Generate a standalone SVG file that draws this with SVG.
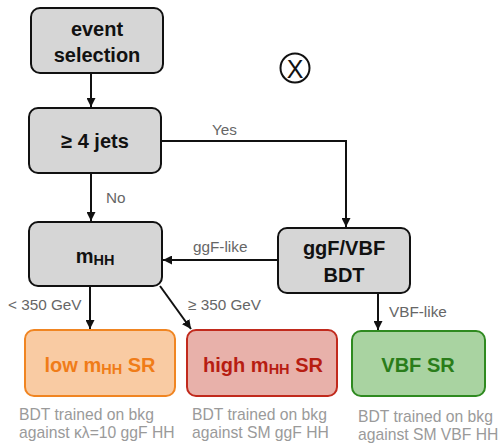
<svg xmlns="http://www.w3.org/2000/svg" width="498" height="444" viewBox="0 0 498 444">
<style>
.box{fill:#d6d6d6;stroke:#111;stroke-width:2}
.t{font-family:"Liberation Sans",Arial,sans-serif;font-weight:bold;font-size:20px;text-anchor:middle;fill:#111}
.sr{font-family:"Liberation Sans",Arial,sans-serif;font-weight:bold;font-size:20px;text-anchor:middle}
.lbl{font-family:"Liberation Sans",Arial,sans-serif;font-size:15.3px;fill:#666}
.note{font-family:"Liberation Sans",Arial,sans-serif;font-size:15.7px;fill:#9a9a9a}
.c{fill:none;stroke:#111;stroke-width:2}
</style>
<defs>
<marker id="ah" viewBox="0 0 10 10" refX="10" refY="5" markerWidth="4.5" markerHeight="4.5" orient="auto" markerUnits="strokeWidth">
<path d="M0,0 L10,5 L0,10 z" fill="#111"/>
</marker>
</defs>
<rect width="498" height="444" fill="#fff"/>
<g id="connectors">
<path class="c" d="M91,73 V107" marker-end="url(#ah)"/>
<path class="c" d="M161,141 H346 V227" marker-end="url(#ah)"/>
<path class="c" d="M91,173 V221" marker-end="url(#ah)"/>
<path class="c" d="M278,260 H163" marker-end="url(#ah)"/>
<path class="c" d="M90,286 V329" marker-end="url(#ah)"/>
<path class="c" d="M160,286 L191,329" marker-end="url(#ah)"/>
<path class="c" d="M378,293 V330" marker-end="url(#ah)"/>
<text class="lbl" x="212" y="135">Yes</text>
<text class="lbl" x="106" y="203">No</text>
<text class="lbl" x="193" y="252">ggF-like</text>
<text class="lbl" x="8" y="310">&lt; 350 GeV</text>
<text class="lbl" x="188" y="310">≥ 350 GeV</text>
<text class="lbl" x="389" y="317">VBF-like</text>
</g>
<g id="event-selection">
<rect class="box" x="31" y="8" width="132" height="65" rx="9"/>
<text class="t" x="97" y="36">event</text>
<text class="t" x="97" y="62">selection</text>
</g>
<g id="jets">
<rect class="box" x="29" y="108" width="132" height="65" rx="9"/>
<text class="t" x="95" y="148">≥ 4 jets</text>
</g>
<g id="mhh">
<rect class="box" x="29" y="222" width="133" height="64" rx="9"/>
<text class="t" x="95" y="263">m<tspan font-size="14.5" dy="2">HH</tspan></text>
</g>
<g id="bdt">
<rect class="box" x="278" y="228" width="132" height="65" rx="9"/>
<text class="t" x="344" y="255">ggF/VBF</text>
<text class="t" x="344" y="282">BDT</text>
</g>
<g id="otimes">
<circle cx="295" cy="68" r="14.5" fill="none" stroke="#111" stroke-width="2"/>
<text x="295" y="77.5" font-family="Liberation Sans,Arial,sans-serif" font-size="25" text-anchor="middle" fill="#111">X</text>
</g>
<g id="low-sr">
<rect x="25" y="330" width="150" height="66" rx="9" fill="#f9cba3" stroke="#f08522" stroke-width="2"/>
<text class="sr" x="100" y="372" fill="#f07c18">low m<tspan font-size="14.5" dy="2">HH</tspan><tspan dy="-2"> SR</tspan></text>
<text class="note" x="19" y="420">BDT trained on bkg</text>
<text class="note" x="19" y="438">against κλ=10 ggF HH</text>
</g>
<g id="high-sr">
<rect x="187" y="330" width="150" height="66" rx="9" fill="#e8b1aa" stroke="#c12a1d" stroke-width="2"/>
<text class="sr" x="263" y="372" fill="#b71d12">high m<tspan font-size="14.5" dy="2">HH</tspan><tspan dy="-2"> SR</tspan></text>
<text class="note" x="192" y="420">BDT trained on bkg</text>
<text class="note" x="192" y="438">against SM ggF HH</text>
</g>
<g id="vbf-sr">
<rect x="352" y="331" width="133" height="65" rx="9" fill="#a9d3a1" stroke="#2f8a20" stroke-width="2"/>
<text class="sr" x="418" y="372" fill="#2a7d1a">VBF SR</text>
<text class="note" x="358" y="422">BDT trained on bkg</text>
<text class="note" x="358" y="440">against SM VBF HH</text>
</g>
</svg>
